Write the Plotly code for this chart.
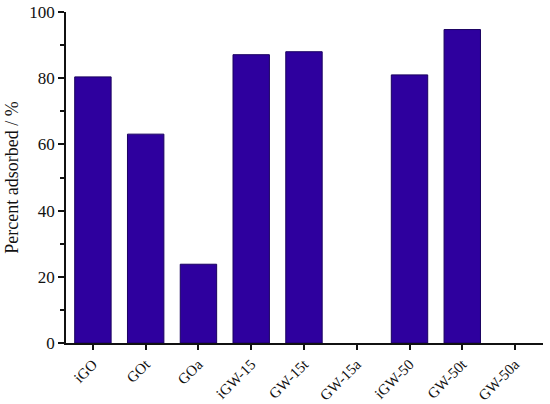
import plotly.graph_objects as go

samples = ["iGO", "GOt", "GOa", "iGW-15", "GW-15t", "GW-15a", "iGW-50", "GW-50t", "GW-50a"]
percent_adsorbed = [80.4, 63.1, 23.8, 87.1, 88.0, 0, 81.0, 94.7, 0]

y_ticks = [0, 20, 40, 60, 80, 100]

BAR_COLOR = "#2E009E"
FONT = "Liberation Serif, Times New Roman, serif"

# no outline on empty bars, so zero values stay invisible like the original
outline_widths = [1 if v > 0 else 0 for v in percent_adsorbed]

fig = go.Figure()
fig.add_bar(
    x=samples,
    y=percent_adsorbed,
    width=0.69,
    marker=dict(color=BAR_COLOR, line=dict(color="#1a0060", width=outline_widths)),
)

fig.update_layout(
    width=550,
    height=404,
    margin=dict(l=66, r=7, t=12, b=61),
    template="plotly_white",
    paper_bgcolor="white",
    plot_bgcolor="white",
    font=dict(family=FONT, size=17, color="#111"),
    showlegend=False,
)

fig.update_xaxes(
    range=[-0.51, 8.53],
    automargin=False,
    showgrid=False,
    showline=True,
    linecolor="#111",
    linewidth=1.5,
    ticks="outside",
    ticklen=5,
    tickwidth=1.5,
    tickcolor="#111",
    tickangle=-45,
    tickfont=dict(size=15),
    minor=dict(ticks="outside", ticklen=4, tickwidth=1.5, tickcolor="#111", dtick=0.5, tick0=-0.5),
    zeroline=False,
)
fig.update_yaxes(
    range=[0, 100],
    automargin=False,
    tickvals=y_ticks,
    showgrid=False,
    showline=True,
    linecolor="#111",
    linewidth=1.5,
    ticks="outside",
    ticklen=6,
    tickwidth=1.5,
    tickcolor="#111",
    minor=dict(ticks="outside", ticklen=4, tickwidth=1.5, tickcolor="#111", dtick=10),
    zeroline=False,
    title=dict(text="Percent adsorbed / %", font=dict(family=FONT, size=18), standoff=6),
)

# drop the default 8px page margin so the figure fills the window exactly
fig.write_html(
    "out.html",
    config={"displayModeBar": False},
    post_script="document.body.style.margin = '0';",
)
